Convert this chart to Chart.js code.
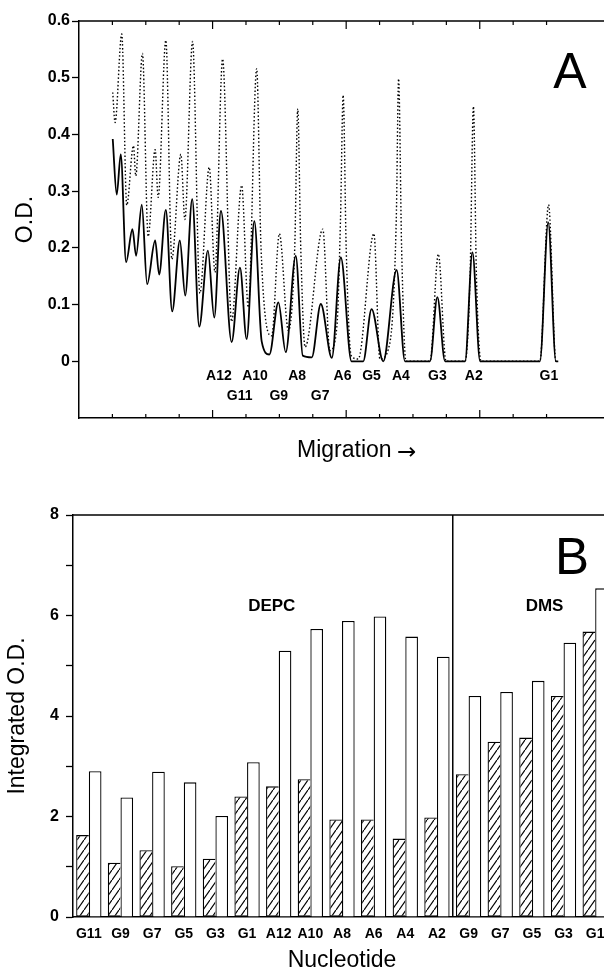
<!DOCTYPE html>
<html>
<head>
<meta charset="utf-8">
<script src="https://cdn.jsdelivr.net/npm/chart.js@4.4.0/dist/chart.umd.min.js"></script>
<style>
  html, body { margin: 0; padding: 0; background: #fff; overflow: hidden; }
  #panelA { position: absolute; left: 0; top: 0; }
  #panelB { position: absolute; left: 0; top: 480px; }
</style>
</head>
<body>
<canvas id="panelA" width="620" height="480"></canvas>
<canvas id="panelB" width="620" height="495"></canvas>
<script>
// ---- panel A: densitometer traces (migration in tick units) ----
const solidX = [1.01, 1.13, 1.25, 1.41, 1.60, 1.71, 1.88, 2.04, 2.28, 2.40, 2.60, 2.79, 3.02, 3.18, 3.39, 3.60, 3.86, 4.05, 4.25, 4.57,
    4.82, 5.02, 5.25, 5.47, 5.70, 5.97, 6.19, 6.49, 6.70, 6.97, 7.24, 7.57, 7.84, 8.16, 8.51, 8.76, 9.11, 9.51, 9.76, 10.51,
    10.73, 10.96, 11.56, 11.78, 12.01, 13.80, 14.05, 14.28, 14.35];
const solidY = [0.392, 0.294, 0.365, 0.175, 0.233, 0.186, 0.276, 0.136, 0.213, 0.153, 0.267, 0.088, 0.213, 0.116, 0.286, 0.061, 0.195, 0.077, 0.265, 0.034,
    0.165, 0.039, 0.247, 0.035, 0.012, 0.104, 0.016, 0.186, 0.010, 0.007, 0.101, 0.006, 0.183, 0, 0, 0.092, 0, 0.161, 0, 0,
    0.113, 0, 0, 0.192, 0, 0, 0.245, 0, 0];

const dottedX = [1.01, 1.08, 1.28, 1.43, 1.63, 1.70, 1.90, 2.07, 2.28, 2.37, 2.60, 2.78, 3.05, 3.17, 3.40, 3.62, 3.90, 4.07, 4.30, 4.57,
    4.87, 5.07, 5.32, 5.45, 5.77, 6.00, 6.27, 6.46, 6.55, 6.64, 6.77, 7.30, 7.51, 7.72, 7.83, 7.91, 8.00, 8.15, 8.36, 8.83,
    9.01, 9.30, 9.50, 9.57, 9.66, 9.79, 10.51, 10.76, 10.99, 11.56, 11.71, 11.81, 11.90, 12.04, 13.80, 14.06, 14.28, 14.35];
const dottedY = [0.474, 0.421, 0.577, 0.275, 0.380, 0.327, 0.543, 0.220, 0.373, 0.289, 0.566, 0.180, 0.365, 0.250, 0.564, 0.120, 0.342, 0.157, 0.533, 0.070,
    0.310, 0.095, 0.516, 0.200, 0.045, 0.225, 0.054, 0.200, 0.445, 0.200, 0.025, 0.233, 0.019, 0.060, 0.250, 0.469, 0.200, 0.010, 0.004, 0.225,
    0.004, 0.030, 0.250, 0.498, 0.200, 0, 0, 0.189, 0, 0, 0.150, 0.449, 0.150, 0, 0, 0.276, 0, 0];

const peakNames = ['A12', 'G11', 'A10', 'G9', 'A8', 'G7', 'A6', 'G5', 'A4', 'G3', 'A2', 'G1'];
const peakPos = [4.19, 4.81, 5.27, 5.98, 6.53, 7.22, 7.89, 8.76, 9.64, 10.73, 11.82, 14.07];
const peakRow = [0, 1, 0, 1, 0, 1, 0, 0, 0, 0, 0, 0];

// ---- panel B: integrated O.D. per nucleotide ----
const nucleotides = ['G11', 'G9', 'G7', 'G5', 'G3', 'G1', 'A12', 'A10', 'A8', 'A6', 'A4', 'A2', 'G9', 'G7', 'G5', 'G3', 'G1'];
const hatchedOD = [1.63, 1.08, 1.33, 1.01, 1.16, 2.40, 2.60, 2.74, 1.94, 1.94, 1.56, 1.98, 2.84, 3.49, 3.57, 4.40, 5.68];
const openOD = [2.90, 2.38, 2.89, 2.68, 2.01, 3.08, 5.30, 5.73, 5.89, 5.98, 5.58, 5.18, 4.40, 4.48, 4.70, 5.46, 6.54];
const groupNames = ['DEPC', 'DMS'];
const groupSizes = [12, 5];

const FONT = "'Liberation Sans', Arial, sans-serif";
const pairs = (xs, ys) => xs.map((v, i) => ({ x: v, y: ys[i] }));

const panelAOverlay = {
    id: 'panelAOverlay',
    afterDraw(chart) {
        const { ctx, chartArea: a, scales: { x, y } } = chart;
        ctx.save();
        ctx.strokeStyle = '#000';
        ctx.lineWidth = 1.5;
        ctx.beginPath();
        ctx.moveTo(a.left, a.top);
        ctx.lineTo(a.right, a.top);
        ctx.stroke();
        // inward ticks top and bottom, long ones every 4
        ctx.lineWidth = 1.2;
        x.ticks.filter(t => Number.isInteger(t.value) && t.value > 0).forEach(t => {
            const px = x.getPixelForValue(t.value);
            const len = t.value % 4 === 0 ? 8 : 4;
            ctx.beginPath();
            ctx.moveTo(px, a.top);
            ctx.lineTo(px, a.top + len);
            ctx.moveTo(px, a.bottom);
            ctx.lineTo(px, a.bottom - len);
            ctx.stroke();
        });
        ctx.fillStyle = '#000';
        ctx.textAlign = 'center';
        ctx.textBaseline = 'middle';
        ctx.font = 'bold 14px ' + FONT;
        peakNames.forEach((n, i) => {
            ctx.fillText(n, x.getPixelForValue(peakPos[i]), y.getPixelForValue(peakRow[i] ? -0.062 : -0.026));
        });
        ctx.font = '50px ' + FONT;
        ctx.fillText('A', a.right - 35, a.top + 53);
        ctx.textAlign = 'left';
        ctx.font = '23px ' + FONT;
        ctx.fillText('Migration', 297, a.bottom + 33);
        ctx.font = "23px 'DejaVu Sans'";
        ctx.fillText('\u2192', 397, a.bottom + 35);
        ctx.restore();
    }
};

new Chart(document.getElementById('panelA'), {
    type: 'line',
    data: {
        datasets: [
            {
                data: pairs(solidX, solidY),
                borderColor: '#000',
                borderWidth: 1.8,
                pointRadius: 0,
                cubicInterpolationMode: 'monotone',
                fill: false
            },
            {
                data: pairs(dottedX, dottedY),
                borderColor: '#000',
                borderWidth: 1.4,
                borderDash: [1.5, 2.2],
                pointRadius: 0,
                cubicInterpolationMode: 'monotone',
                fill: false
            }
        ]
    },
    options: {
        responsive: false,
        animation: false,
        layout: { padding: { top: 21, right: 15 } },
        plugins: { legend: { display: false }, tooltip: { enabled: false } },
        scales: {
            x: {
                type: 'linear',
                min: 0,
                max: 15.75,
                ticks: { display: false, stepSize: 1 },
                grid: { display: false },
                border: { color: '#000', width: 1.5 },
                afterFit: s => { s.height = 62; }
            },
            y: {
                min: -0.1,
                max: 0.6,
                ticks: {
                    stepSize: 0.1,
                    padding: 2,
                    color: '#000',
                    font: { family: FONT, size: 16, weight: 'bold' },
                    callback: v => v < -0.05 ? '' : (Math.abs(v) < 1e-6 ? '0' : v.toFixed(1))
                },
                grid: {
                    drawOnChartArea: false,
                    tickLength: 7,
                    tickWidth: 1.3,
                    tickColor: c => c.tick && c.tick.value < -0.05 ? 'rgba(0,0,0,0)' : '#000'
                },
                border: { color: '#000', width: 1.5 },
                title: { display: true, text: 'O.D.', color: '#000', font: { family: FONT, size: 23 }, padding: { top: 12 } },
                afterFit: s => { s.width = 79; }
            }
        }
    },
    plugins: [panelAOverlay]
});

function makeHatch() {
    const c = document.createElement('canvas');
    c.width = 7;
    c.height = 10;
    const g = c.getContext('2d');
    g.fillStyle = '#fff';
    g.fillRect(0, 0, 7, 10);
    g.strokeStyle = '#000';
    g.lineWidth = 1.2;
    for (let k = -1; k <= 1; k++) {
        g.beginPath();
        g.moveTo(0, 10 + k * 10);
        g.lineTo(7, k * 10);
        g.stroke();
    }
    return g.createPattern(c, 'repeat');
}

const panelBOverlay = {
    id: 'panelBOverlay',
    afterDraw(chart) {
        const { ctx, chartArea: a, scales: { x, y } } = chart;
        ctx.save();
        ctx.strokeStyle = '#000';
        ctx.lineWidth = 1.5;
        ctx.beginPath();
        ctx.moveTo(a.left, a.top);
        ctx.lineTo(a.right, a.top);
        ctx.stroke();
        // divider between the two reagent groups
        const cut = groupSizes[0];
        const px = (x.getPixelForValue(cut - 1) + x.getPixelForValue(cut)) / 2;
        ctx.beginPath();
        ctx.moveTo(px, a.top);
        ctx.lineTo(px, a.bottom);
        ctx.stroke();
        ctx.fillStyle = '#000';
        ctx.textAlign = 'center';
        ctx.textBaseline = 'middle';
        ctx.font = 'bold 17px ' + FONT;
        ctx.fillText(groupNames[0], x.getPixelForValue(5.78), y.getPixelForValue(6.18));
        ctx.fillText(groupNames[1], x.getPixelForValue(14.4), y.getPixelForValue(6.18));
        ctx.font = '51px ' + FONT;
        ctx.fillText('B', 572, a.top + 45);
        ctx.restore();
    }
};

new Chart(document.getElementById('panelB'), {
    type: 'bar',
    data: {
        labels: nucleotides,
        datasets: [
            {
                data: hatchedOD,
                backgroundColor: makeHatch(),
                borderColor: '#000',
                borderWidth: 1.3,
                borderSkipped: 'right'
            },
            {
                data: openOD,
                backgroundColor: '#fff',
                borderColor: '#000',
                borderWidth: 1.3
            }
        ]
    },
    options: {
        responsive: false,
        animation: false,
        layout: { padding: { top: 35, right: 9 } },
        datasets: { bar: { categoryPercentage: 0.8, barPercentage: 1.0 } },
        plugins: { legend: { display: false }, tooltip: { enabled: false } },
        scales: {
            x: {
                grid: { display: false },
                border: { color: '#000', width: 1.5 },
                ticks: {
                    autoSkip: false,
                    maxRotation: 0,
                    padding: 1,
                    color: '#000',
                    font: { family: FONT, size: 14, weight: 'bold' }
                },
                title: { display: true, text: 'Nucleotide', color: '#000', font: { family: FONT, size: 23 }, padding: { top: 0, bottom: 1 } },
                afterFit: s => { s.height = 58; }
            },
            y: {
                min: 0,
                max: 8,
                ticks: {
                    stepSize: 1,
                    padding: 7,
                    color: '#000',
                    font: { family: FONT, size: 16, weight: 'bold' },
                    callback: v => v % 2 === 0 ? v : ''
                },
                grid: { drawOnChartArea: false, tickLength: 7, tickWidth: 1.3, tickColor: '#000' },
                border: { color: '#000', width: 1.5 },
                title: { display: true, text: 'Integrated O.D.', color: '#000', font: { family: FONT, size: 23 }, padding: { top: 4 } },
                afterFit: s => { s.width = 73; }
            }
        }
    },
    plugins: [panelBOverlay]
});
</script>
</body>
</html>
